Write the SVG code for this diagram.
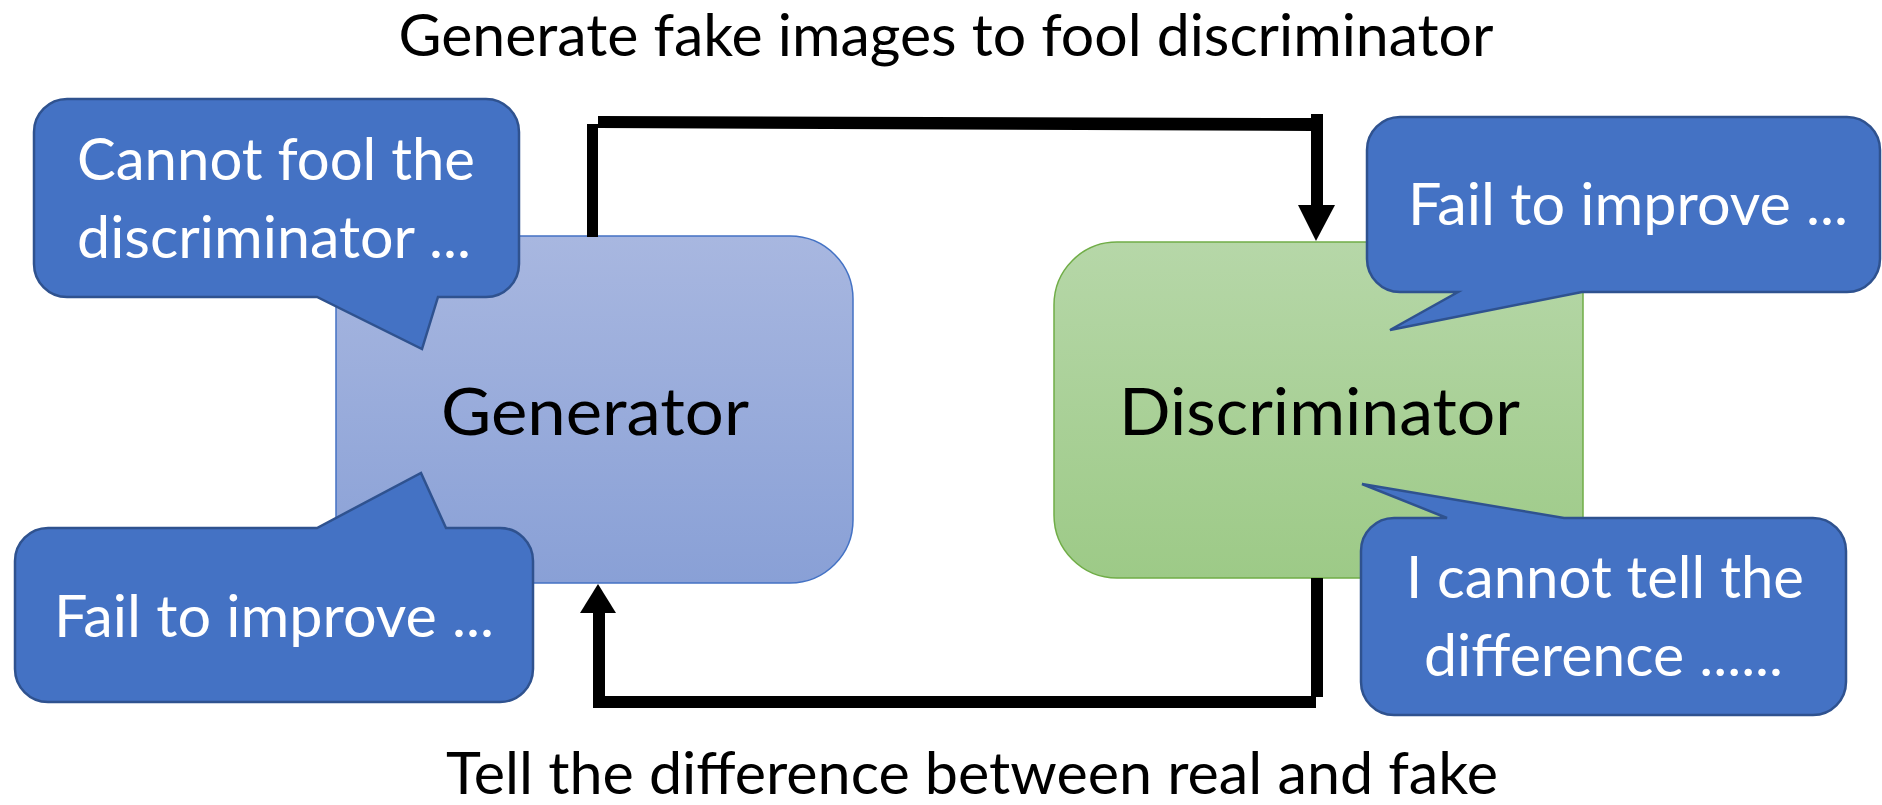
<svg xmlns="http://www.w3.org/2000/svg" width="1882" height="805" viewBox="0 0 1882 805">
  <defs>
    <linearGradient id="genGrad" x1="0" y1="0" x2="0" y2="1">
      <stop offset="0" stop-color="#A8B7E0"/>
      <stop offset="1" stop-color="#89A0D6"/>
    </linearGradient>
    <linearGradient id="discGrad" x1="0" y1="0" x2="0" y2="1">
      <stop offset="0" stop-color="#B6D7A8"/>
      <stop offset="1" stop-color="#9DCA87"/>
    </linearGradient>
  </defs>
  <style>
    text { font-family: Lato, "Open Sans", sans-serif; text-anchor: middle; }
    .label { font-size: 58px; fill: #000000; }
    .big { font-size: 65px; fill: #000000; }
    .bubble-text { font-size: 58px; fill: #FFFFFF; }
    .bubble { fill: #4472C4; stroke: #2F528F; stroke-width: 2.5; stroke-linejoin: miter; }
    .conn { fill: #000000; }
  </style>
  <rect width="1882" height="805" fill="#FFFFFF"/>

  <g id="title-top">
    <text class="label" x="946" y="56" textLength="1095" lengthAdjust="spacingAndGlyphs">Generate fake images to fool discriminator</text>
  </g>
  <g id="title-bottom">
    <text class="label" x="972" y="794" textLength="1052" lengthAdjust="spacingAndGlyphs">Tell the difference between real and fake</text>
  </g>

  <g id="generator">
    <path d="M336,236 H790 A63,63 0 0 1 853,299 V520 A63,63 0 0 1 790,583 H336 Z" fill="url(#genGrad)" stroke="#4472C4" stroke-width="1.5"/>
    <text class="big" x="595" y="435" textLength="308" lengthAdjust="spacingAndGlyphs">Generator</text>
  </g>

  <g id="discriminator">
    <path d="M1117,242 H1583 V578 H1117 A63,63 0 0 1 1054,515 V305 A63,63 0 0 1 1117,242 Z" fill="url(#discGrad)" stroke="#70AD47" stroke-width="1.5"/>
    <text class="big" x="1319.5" y="435" textLength="401" lengthAdjust="spacingAndGlyphs">Discriminator</text>
  </g>

  <g id="connectors">
    <rect class="conn" x="587" y="124" width="11" height="113"/>
    <polygon class="conn" points="598,116 1311,118 1311,131 598,128"/>
    <rect class="conn" x="1311" y="114" width="12" height="92"/>
    <polygon class="conn" points="1298,205 1335,205 1316,241"/>
    <rect class="conn" x="1311" y="578" width="12" height="119"/>
    <rect class="conn" x="593" y="696" width="723" height="12"/>
    <rect class="conn" x="593" y="612" width="12" height="90"/>
    <polygon class="conn" points="580,613 616,613 598,584"/>
  </g>

  <g id="bubble-gen-top">
    <path class="bubble" d="M67,99 H486 A33,33 0 0 1 519,132 V264 A33,33 0 0 1 486,297 H438 L422,349 L317,297 H67 A33,33 0 0 1 34,264 V132 A33,33 0 0 1 67,99 Z"/>
    <text class="bubble-text" x="276" y="180" textLength="398" lengthAdjust="spacingAndGlyphs">Cannot fool the</text>
    <text class="bubble-text" x="274" y="258" textLength="394" lengthAdjust="spacingAndGlyphs">discriminator ...</text>
  </g>

  <g id="bubble-disc-top">
    <path class="bubble" d="M1400,117 H1847 A33,33 0 0 1 1880,150 V259 A33,33 0 0 1 1847,292 H1582 L1390,330 L1458,292 H1400 A33,33 0 0 1 1367,259 V150 A33,33 0 0 1 1400,117 Z"/>
    <text class="bubble-text" x="1628" y="225" textLength="440" lengthAdjust="spacingAndGlyphs">Fail to improve ...</text>
  </g>

  <g id="bubble-gen-bottom">
    <path class="bubble" d="M48,528 H317 L421,473 L446,528 H500 A33,33 0 0 1 533,561 V669 A33,33 0 0 1 500,702 H48 A33,33 0 0 1 15,669 V561 A33,33 0 0 1 48,528 Z"/>
    <text class="bubble-text" x="274" y="637" textLength="440" lengthAdjust="spacingAndGlyphs">Fail to improve ...</text>
  </g>

  <g id="bubble-disc-bottom">
    <path class="bubble" d="M1394,518 H1447 L1362,484 L1564,518 H1813 A33,33 0 0 1 1846,551 V682 A33,33 0 0 1 1813,715 H1394 A33,33 0 0 1 1361,682 V551 A33,33 0 0 1 1394,518 Z"/>
    <text class="bubble-text" x="1605" y="598" textLength="398" lengthAdjust="spacingAndGlyphs">I cannot tell the</text>
    <text class="bubble-text" x="1603.5" y="676" textLength="359" lengthAdjust="spacingAndGlyphs">difference ......</text>
  </g>
</svg>
